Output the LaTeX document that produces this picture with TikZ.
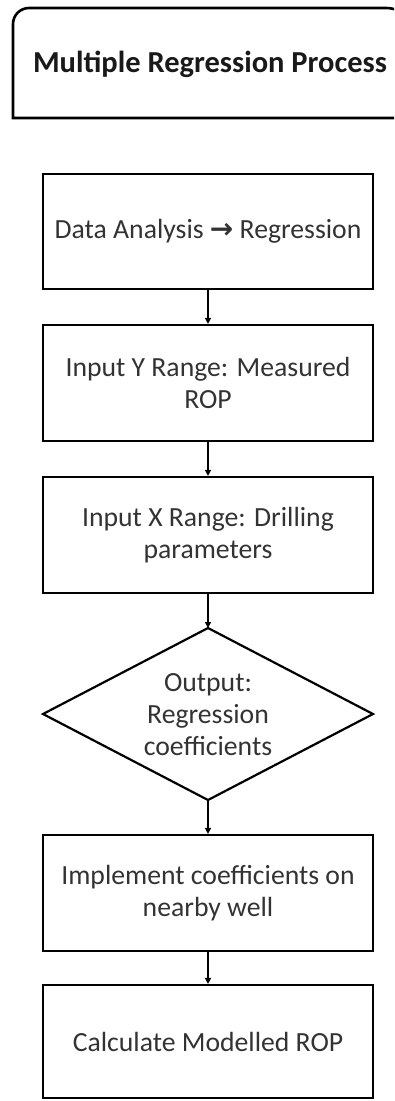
\documentclass[tikz,border=0pt]{standalone}
\usepackage{fontspec}
\setmainfont{Carlito}
\newfontfamily\symfont{DejaVu Sans}
\usetikzlibrary{arrows.meta}

\begin{document}
\begin{tikzpicture}[x=1pt,y=1pt,
  stepbox/.style={draw=black, line width=2.2pt, minimum width=330pt, inner sep=0pt,
    align=center, text=black!80,
    font=\fontsize{27.7}{32}\selectfont},
  labeltext/.style={align=center, text=black!80, inner sep=0pt,
    font=\fontsize{27.7}{32}\selectfont},
  link/.style={draw=black, line width=2pt, -{Triangle[length=6pt,width=6pt]}},
  frame/.style={draw=black, line width=2.6pt}
]
\useasboundingbox (0,0) rectangle (394,-1101);

% heading panel with rounded top corners, running off the right side
\begin{scope}
\clip (0,0) rectangle (394,-1101);
\draw[frame] (13,-118) -- (13,-24) arc[start angle=180, end angle=90, radius=16]
  -- (386,-8) arc[start angle=90, end angle=0, radius=30] -- (416,-118) -- cycle;
\end{scope}
\node[inner sep=0pt, font=\fontsize{30.5}{34}\selectfont\bfseries, text=black!90]
  (title) at (210,-64) {Multiple Regression Process};

% process steps
\node[stepbox, minimum height=115pt] (s1) at (208,-231.5)
  {Data Analysis {\symfont\bfseries\fontsize{28}{32}\selectfont →} Regression};
\node[stepbox, minimum height=116pt] (s2) at (208,-383)
  {Input Y Range: Measured\\ROP};
\node[stepbox, minimum height=116pt] (s3) at (208,-535)
  {Input X Range: Drilling\\parameters};

% decision diamond
\coordinate (dtop) at (208,-628);
\coordinate (dright) at (373,-714);
\coordinate (dbot) at (208,-800);
\coordinate (dleft) at (43,-714);
\draw[black, line width=2.2pt, line join=miter] (dtop) -- (dright) -- (dbot) -- (dleft) -- cycle;
\node[labeltext] (out) at (208,-715) {Output:\\Regression\\coefficients};

\node[stepbox, minimum height=116pt] (s5) at (208,-893)
  {Implement coefficients on\\nearby well};
\node[stepbox, minimum height=113pt] (s6) at (208,-1041.5)
  {Calculate Modelled ROP};

% connectors
\draw[link] (s1.south) -- (s2.north);
\draw[link] (s2.south) -- (s3.north);
\draw[link] (s3.south) -- (dtop);
\draw[link] (dbot) -- (s5.north);
\draw[link] (s5.south) -- (s6.north);
\end{tikzpicture}
\end{document}
